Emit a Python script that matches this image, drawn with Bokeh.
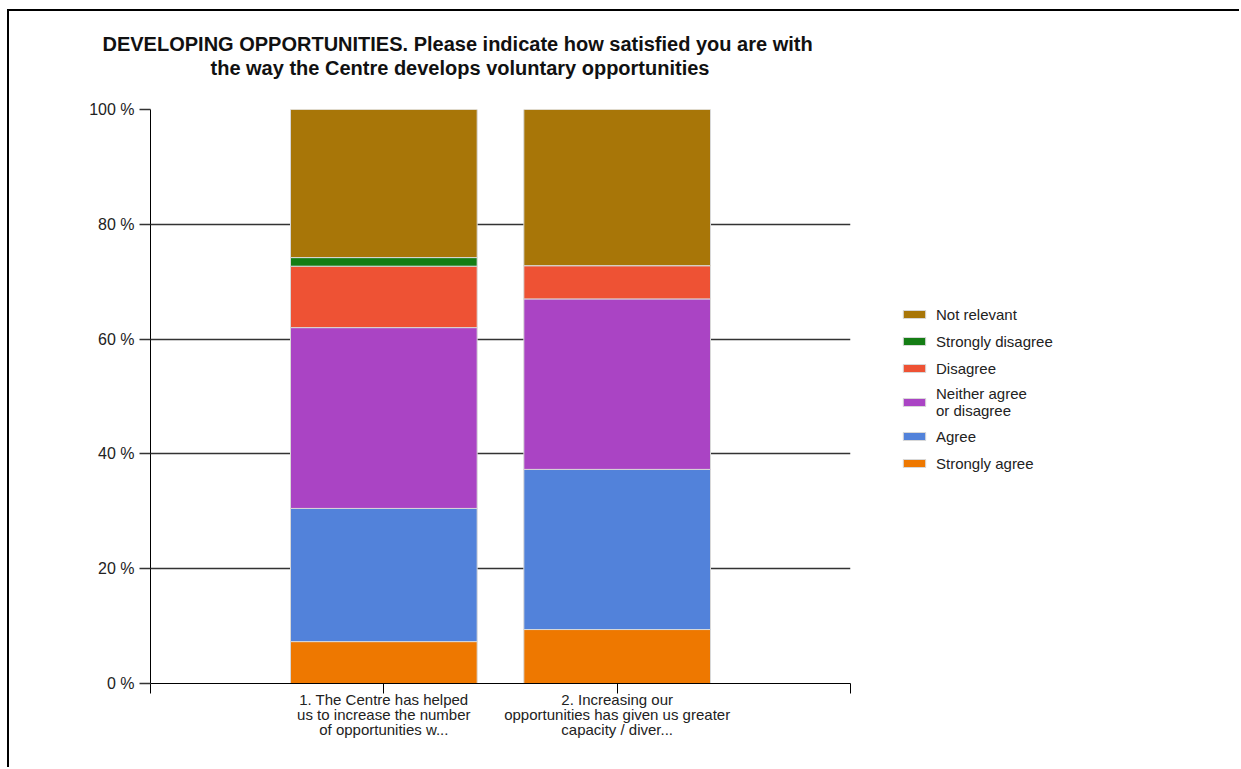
from bokeh.plotting import figure
from bokeh.layouts import row
from bokeh.models import (ColumnDataSource, Legend, LegendItem, Title, FixedTicker,
                          PrintfTickFormatter, Range1d)
from bokeh.embed import file_html
from bokeh.resources import INLINE

# ---- data ----
categories = [
    "1. The Centre has helped\nus to increase the number\nof opportunities w...",
    "2. Increasing our\nopportunities has given us greater\ncapacity / diver...",
]
series_names = ["Strongly agree", "Agree", "Neither agree\nor disagree",
                "Disagree", "Strongly disagree", "Not relevant"]
strongly_agree = [7.3, 9.4]
agree = [23.2, 27.9]
neither = [31.5, 29.7]
disagree = [10.7, 5.8]
strongly_disagree = [1.5, 0.0]
not_relevant = [25.8, 27.2]
y_ticks = [0, 20, 40, 60, 80, 100]
title_lines = ["DEVELOPING OPPORTUNITIES. Please indicate how satisfied you are with",
               "the way the Centre develops voluntary opportunities"]

colors = ["#EE7800", "#5282DA", "#AA44C4", "#EE5234", "#147D14", "#A87608"]
EDGE = "#D8D8D8"

keys = ["sa", "a", "n", "d", "sd", "nr"]
xs = list(range(1, len(categories) + 1))
source = ColumnDataSource(dict(x=xs, sa=strongly_agree, a=agree, n=neither,
                               d=disagree, sd=strongly_disagree, nr=not_relevant))

FONT = "Liberation Sans"

W1, W2, H = 851, 379, 756
p = figure(width=W1, height=H, output_backend="svg", toolbar_location=None,
           x_range=Range1d(0, len(categories) + 1), y_range=Range1d(0, 100),
           min_border_left=141, min_border_right=W1 - 841,
           min_border_top=98, min_border_bottom=H - 672)
p.outline_line_color = None
p.background_fill_color = "white"
p.border_fill_color = "white"

renderers = p.vbar_stack(keys, x="x", width=0.8, source=source, color=colors,
                         line_color=EDGE, line_width=1)

# grid
p.xgrid.visible = False
p.ygrid.ticker = FixedTicker(ticks=y_ticks)
p.ygrid.grid_line_color = "#333333"
p.ygrid.grid_line_width = 1.5
p.ygrid.level = "underlay"

# y axis
p.yaxis.ticker = FixedTicker(ticks=y_ticks)
p.yaxis.formatter = PrintfTickFormatter(format="%d %%")
p.yaxis.major_tick_out = 11
p.yaxis.major_tick_in = 0
p.yaxis.minor_tick_line_color = None
p.yaxis.major_tick_line_color = "#333333"
p.yaxis.major_tick_line_width = 1.5
p.yaxis.axis_line_color = "black"
p.yaxis.major_label_text_font = FONT
p.yaxis.major_label_text_font_size = "16px"
p.yaxis.major_label_text_color = "#222222"
p.yaxis.major_label_standoff = 5

# x axis
p.xaxis.ticker = FixedTicker(ticks=[0] + xs + [len(categories) + 1])
p.xaxis.major_label_overrides = {0: "", len(categories) + 1: "",
                                 **{x: c for x, c in zip(xs, categories)}}
p.xaxis.major_tick_out = 10
p.xaxis.major_tick_in = 0
p.xaxis.minor_tick_line_color = None
p.xaxis.axis_line_color = "black"
p.xaxis.major_tick_line_color = "black"
p.xaxis.major_label_text_font = FONT
p.xaxis.major_label_text_font_size = "15px"
p.xaxis.major_label_text_color = "#222222"
p.xaxis.major_label_standoff = -3
p.xaxis.major_label_text_line_height = 0.9

# title: spacer nearest the frame, then line 2, then line 1 on top
p.add_layout(Title(text=" ", text_font=FONT, text_font_size="18px", standoff=9), "above")
for line, off in [(title_lines[1], 60), (title_lines[0], -48)]:
    p.add_layout(Title(text=line, align="left", offset=off, text_font=FONT,
                       text_font_size="20px", text_font_style="bold",
                       text_color="#111111", standoff=0), "above")

# legend in its own panel to the right (its bars sit outside the visible range)
q = figure(width=W2, height=H, output_backend="svg", toolbar_location=None,
           x_range=Range1d(-20, -19), y_range=Range1d(0, 100),
           x_axis_type=None, y_axis_type=None, min_border=0)
q.outline_line_color = None
q.grid.visible = False
swatches = q.vbar_stack(keys, x="x", width=0.8, source=source, color=colors,
                        line_color=EDGE, line_width=1)
items = [LegendItem(label=name, renderers=[r]) for name, r in zip(series_names, swatches)]
legend = Legend(items=items[::-1], location=(40, 210), padding=0, margin=0,
                border_line_color=None, background_fill_alpha=0,
                glyph_width=28, glyph_height=10, label_height=20, spacing=7,
                label_standoff=8, label_text_font=FONT, label_text_font_size="15px",
                label_text_color="#222222", label_text_line_height=1.0)
q.add_layout(legend, "center")

layout = row(p, q)
layout.styles = {"border-top": "2px solid black", "border-left": "2px solid black",
                 "margin-left": "7px", "margin-top": "9px"}

open("out.html", "w").write(file_html(layout, INLINE))
